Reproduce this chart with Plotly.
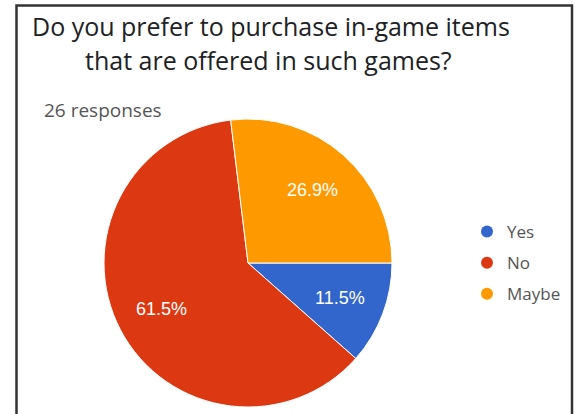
import math
import plotly.graph_objects as go

# Survey answers (26 responses)
answers = ["Yes", "No", "Maybe"]
counts = [3, 16, 7]
slice_colors = ["#3366CC", "#DC3912", "#FF9900"]

title_lines = ["Do you prefer to purchase in-game items", "that are offered in such games?"]
response_note = "26 responses"

W, H = 577, 414

# Pie geometry in pixels
CX, CY, R = 248, 263, 144
START_DEG = 90  # first slice starts at 3 o'clock, clockwise
LABEL_FRAC = 0.68


def px_x(x):
    return x / W


def px_y(y):
    return 1 - y / H


fig = go.Figure()

fig.add_trace(go.Pie(
    labels=answers,
    values=counts,
    sort=False,
    direction="clockwise",
    rotation=START_DEG,
    marker=dict(colors=slice_colors, line=dict(color="white", width=1)),
    textinfo="none",
    showlegend=False,
    hoverinfo="label+value+percent",
    domain=dict(x=[px_x(CX - R), px_x(CX + R)], y=[px_y(CY + R), px_y(CY - R)]),
))

# Percentage labels at the middle angle of each slice
total = sum(counts)
acc = 0.0
for val in counts:
    share = val / total
    mid = math.radians(START_DEG + 360 * (acc + share / 2))
    acc += share
    lx = CX + LABEL_FRAC * R * math.sin(mid)
    ly = CY - LABEL_FRAC * R * math.cos(mid)
    fig.add_annotation(text=f"{share * 100:.1f}%", x=px_x(lx), y=px_y(ly),
                       xref="paper", yref="paper", showarrow=False,
                       xanchor="center", yanchor="middle",
                       font=dict(family="Liberation Sans, Arial", size=18, color="white"))

# Round legend markers
for name, col in zip(answers, slice_colors):
    fig.add_trace(go.Scatter(
        x=[None], y=[None], mode="markers", name=name,
        legendgroup=name,
        marker=dict(symbol="circle", size=14, color=col),
    ))

fig.add_annotation(text=title_lines[0], x=px_x(271), y=px_y(26), xref="paper", yref="paper",
                   showarrow=False, xanchor="center", yanchor="middle",
                   font=dict(family="Open Sans", size=25, color="#202124"))
fig.add_annotation(text=title_lines[1], x=px_x(268), y=px_y(60), xref="paper", yref="paper",
                   showarrow=False, xanchor="center", yanchor="middle",
                   font=dict(family="Open Sans", size=25, color="#202124"))
fig.add_annotation(text=response_note, x=px_x(42), y=px_y(110), xref="paper", yref="paper",
                   showarrow=False, xanchor="left", yanchor="middle",
                   font=dict(family="Open Sans", size=19, color="#555555"))

# Card frame
fig.add_shape(type="rect", xref="paper", yref="paper",
              x0=px_x(16.5), x1=px_x(572), y0=px_y(430), y1=px_y(5.5),
              line=dict(color="#333333", width=2.5))

fig.update_layout(
    width=W, height=H, autosize=False,
    margin=dict(l=0, r=0, t=0, b=0),
    paper_bgcolor="white", plot_bgcolor="white",
    xaxis=dict(visible=False), yaxis=dict(visible=False),
    legend=dict(x=px_x(467), y=px_y(214), xanchor="left", yanchor="top",
                font=dict(family="Open Sans", size=17, color="#555555"),
                tracegroupgap=6, itemsizing="constant", bgcolor="rgba(0,0,0,0)"),
)

fig.write_html("out.html")
